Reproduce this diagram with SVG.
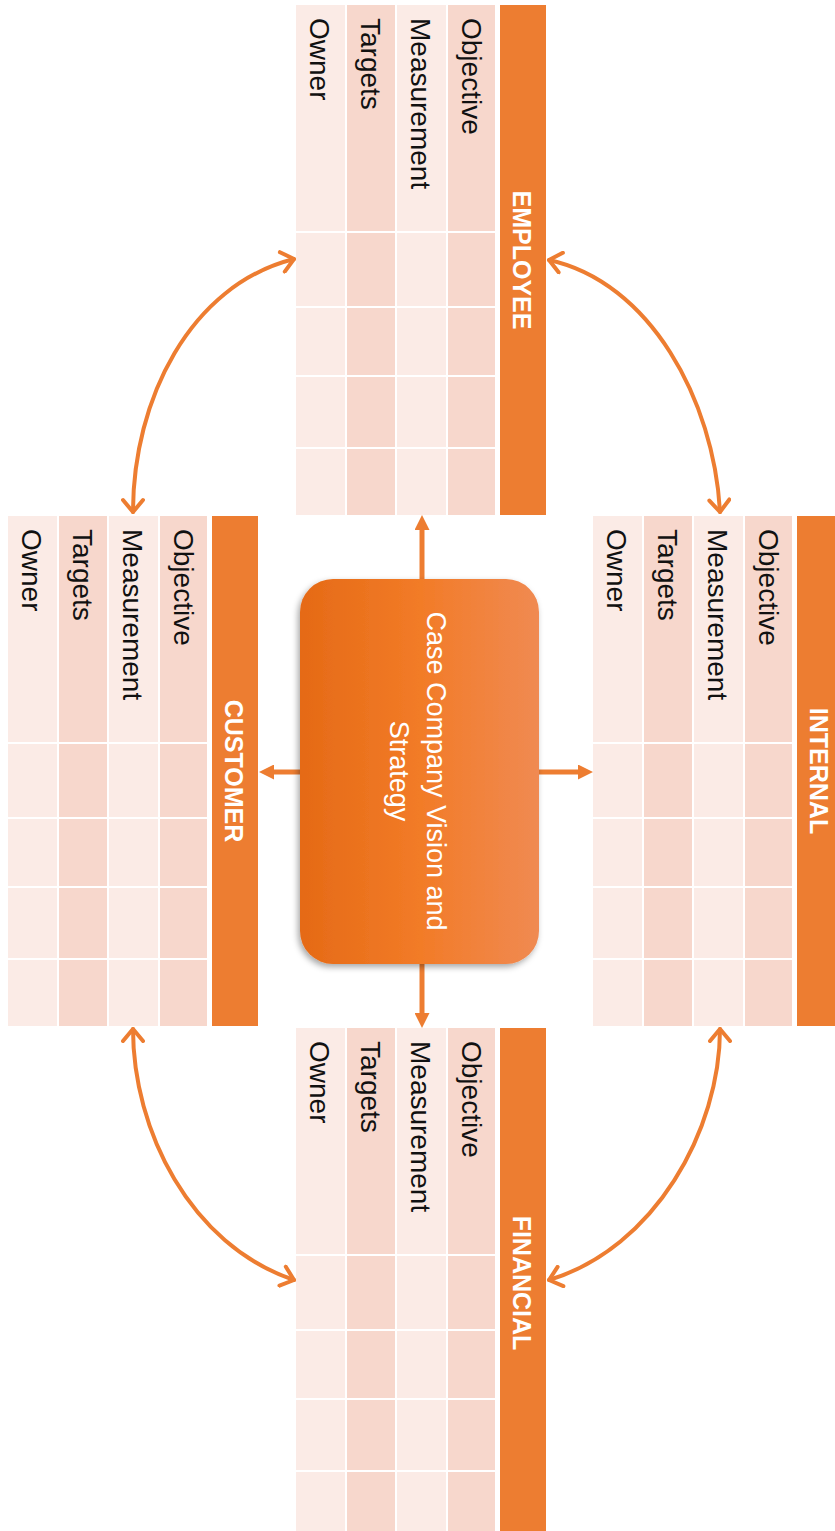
<svg xmlns="http://www.w3.org/2000/svg" xmlns:xlink="http://www.w3.org/1999/xlink" width="835" height="1531" viewBox="0 0 835 1531">
  <style>
    .light { fill: #FBEBE6; }
    .dark { fill: #F7D7CC; }
    .head { fill: #ED7D31; }
    .gap { stroke: #FFFFFF; stroke-width: 2; }
    .lbl { font-family: "Liberation Sans", Arial, sans-serif; font-size: 28px; fill: #111111; }
    .ttl { font-family: "Liberation Sans", Arial, sans-serif; font-size: 25px; font-weight: bold; fill: #FFFFFF; text-anchor: middle; }
    .core { font-family: "Liberation Sans", Arial, sans-serif; font-size: 27px; fill: #FFFFFF; text-anchor: middle; }
    .link { fill: none; stroke: #ED7D31; stroke-width: 5; }
    .loop { fill: none; stroke: #ED7D31; stroke-width: 4; stroke-linecap: round; }
  </style>
  <defs>
    <linearGradient id="coreFill" x1="0" y1="0" x2="1" y2="0">
      <stop offset="0" stop-color="#E56A16"/>
      <stop offset="0.5" stop-color="#F27B27"/>
      <stop offset="1" stop-color="#F08A52"/>
    </linearGradient>
    <filter id="shade" x="-10%" y="-10%" width="120%" height="120%">
      <feDropShadow dx="-2" dy="3" stdDeviation="3" flood-color="#000000" flood-opacity="0.35"/>
    </filter>
    <marker id="tri" markerUnits="userSpaceOnUse" viewBox="0 0 15 15" markerWidth="15" markerHeight="15" refX="2" refY="7.5" orient="auto">
      <path d="M0,0 L15,7.5 L0,15 z" fill="#ED7D31"/>
    </marker>
    <marker id="chev" markerUnits="userSpaceOnUse" viewBox="-16 -12 20 24" markerWidth="20" markerHeight="24" refX="0" refY="0" orient="auto-start-reverse">
      <path d="M-12,-10 L0,0 L-12,10" fill="none" stroke="#ED7D31" stroke-width="4" stroke-linecap="round" stroke-linejoin="round"/>
    </marker>
    <!-- one scorecard grid: four label columns, row separators, title bar -->
    <g id="grid">
      <rect class="light" x="0" y="0" width="49" height="510"/>
      <rect class="dark" x="51" y="0" width="48" height="510"/>
      <rect class="light" x="101" y="0" width="49" height="510"/>
      <rect class="dark" x="152" y="0" width="47" height="510"/>
      <path class="gap" d="M0,227 H199 M0,302 H199 M0,371 H199 M0,443 H199"/>
      <rect class="head" x="204" y="0" width="46" height="510"/>
    </g>
  </defs>

  <rect width="835" height="1531" fill="#FFFFFF"/>

  <!-- connectors -->
  <g id="connectors">
    <path class="link" d="M422,579 V528" marker-end="url(#tri)"/>
    <path class="link" d="M422,964 V1015" marker-end="url(#tri)"/>
    <path class="link" d="M300,772 H272" marker-end="url(#tri)"/>
    <path class="link" d="M539,772 H580" marker-end="url(#tri)"/>
    <path class="loop" d="M133,512 C133,400 190,285 294,259" marker-start="url(#chev)" marker-end="url(#chev)"/>
    <path class="loop" d="M549,260 C650,282 714,400 720,512" marker-start="url(#chev)" marker-end="url(#chev)"/>
    <path class="loop" d="M133,1029 C133,1130 190,1245 294,1280" marker-start="url(#chev)" marker-end="url(#chev)"/>
    <path class="loop" d="M720,1029 C720,1130 655,1248 549,1280" marker-start="url(#chev)" marker-end="url(#chev)"/>
  </g>

  <!-- centre: vision and strategy -->
  <g id="vision">
    <rect x="300" y="579" width="239" height="385" rx="33" ry="33" fill="url(#coreFill)" filter="url(#shade)"/>
    <text class="core" transform="translate(427,771) rotate(90)">Case Company Vision and</text>
    <text class="core" transform="translate(390,771) rotate(90)">Strategy</text>
  </g>

  <g id="employee" transform="translate(296,5)">
    <use xlink:href="#grid" href="#grid"/>
    <text class="lbl" transform="translate(166,13) rotate(90)">Objective</text>
    <text class="lbl" transform="translate(115,13) rotate(90)">Measurement</text>
    <text class="lbl" transform="translate(65,13) rotate(90)">Targets</text>
    <text class="lbl" transform="translate(14,13) rotate(90)">Owner</text>
    <text class="ttl" transform="translate(217,255) rotate(90)">EMPLOYEE</text>
  </g>

  <g id="customer" transform="translate(8,516)">
    <use xlink:href="#grid" href="#grid"/>
    <text class="lbl" transform="translate(166,13) rotate(90)">Objective</text>
    <text class="lbl" transform="translate(115,13) rotate(90)">Measurement</text>
    <text class="lbl" transform="translate(65,13) rotate(90)">Targets</text>
    <text class="lbl" transform="translate(14,13) rotate(90)">Owner</text>
    <text class="ttl" transform="translate(217,255) rotate(90)">CUSTOMER</text>
  </g>

  <g id="internal" transform="translate(593,516)">
    <use xlink:href="#grid" href="#grid"/>
    <text class="lbl" transform="translate(166,13) rotate(90)">Objective</text>
    <text class="lbl" transform="translate(115,13) rotate(90)">Measurement</text>
    <text class="lbl" transform="translate(65,13) rotate(90)">Targets</text>
    <text class="lbl" transform="translate(14,13) rotate(90)">Owner</text>
    <text class="ttl" transform="translate(217,255) rotate(90)">INTERNAL</text>
  </g>

  <g id="financial" transform="translate(296,1028)">
    <use xlink:href="#grid" href="#grid"/>
    <text class="lbl" transform="translate(166,13) rotate(90)">Objective</text>
    <text class="lbl" transform="translate(115,13) rotate(90)">Measurement</text>
    <text class="lbl" transform="translate(65,13) rotate(90)">Targets</text>
    <text class="lbl" transform="translate(14,13) rotate(90)">Owner</text>
    <text class="ttl" transform="translate(217,255) rotate(90)">FINANCIAL</text>
  </g>
</svg>
